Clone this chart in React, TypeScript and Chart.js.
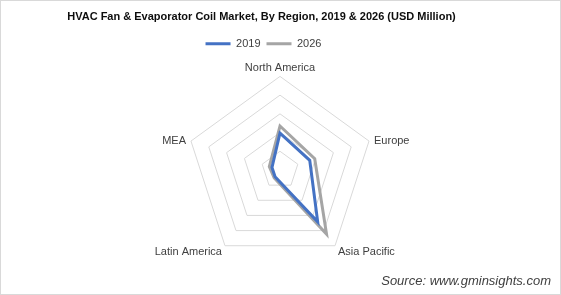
import React, { useEffect, useRef } from "react";
import { Chart, registerables } from "chart.js";

Chart.register(...registerables);

const chartTitle = "HVAC Fan & Evaporator Coil Market, By Region, 2019 & 2026 (USD Million)";
const sourceText = "Source: www.gminsights.com";
const regions = ["North America", "Europe", "Asia Pacific", "Latin America", "MEA"];
const seriesNames = ["2019", "2026"];
const values2019 = [1975, 1670, 3425, 450, 450];
const values2026 = [2350, 1950, 4230, 525, 600];
const scaleMax = 5000;
const scaleStep = 1000;

const seriesColors = ["#4472C4", "#A5A5A5"];
const labelFont = "11px 'Liberation Sans', Arial, sans-serif";
const labelColor = "#404040";

const headerShift = {
  id: "headerShift",
  afterLayout(chart: any) {
    const t = chart.titleBlock;
    if (t) {
      t.left -= 19;
      t.right -= 19;
    }
    const lg = chart.legend;
    if (lg) {
      lg.left -= 17;
      lg.right -= 17;
      lg.top += 5;
      lg.bottom += 5;
    }
  },
};

const regionLabels = {
  id: "regionLabels",
  afterDraw(chart: any) {
    const scale = chart.scales.r;
    const ctx = chart.ctx;
    const R = scale.drawingArea;
    ctx.save();
    ctx.font = labelFont;
    ctx.fillStyle = labelColor;
    regions.forEach((name, i) => {
      const p = scale.getPointPosition(i, R);
      const ux = (p.x - scale.xCenter) / R;
      const uy = (p.y - scale.yCenter) / R;
      if (Math.abs(ux) < 0.1) {
        ctx.textAlign = "center";
        ctx.textBaseline = "bottom";
        ctx.fillText(name, p.x, p.y - 3);
      } else {
        ctx.textAlign = ux > 0 ? "left" : "right";
        ctx.textBaseline = "middle";
        const gap = uy > 0 ? 3 : 5;
        ctx.fillText(name, p.x + (ux > 0 ? gap : -gap), p.y + (uy > 0 ? 6 : 0));
      }
    });
    ctx.restore();
  },
};

export default function App() {
  const ref = useRef<HTMLCanvasElement | null>(null);

  useEffect(() => {
    if (!ref.current) return;
    const chart = new Chart(ref.current, {
      type: "radar",
      data: {
        labels: regions,
        datasets: [
          {
            label: seriesNames[0],
            data: values2019,
            borderColor: seriesColors[0],
            backgroundColor: "rgba(0,0,0,0)",
            borderWidth: 3,
            pointRadius: 0,
            fill: false,
          },
          {
            label: seriesNames[1],
            data: values2026,
            borderColor: seriesColors[1],
            backgroundColor: "rgba(0,0,0,0)",
            borderWidth: 3,
            pointRadius: 0,
            fill: false,
          },
        ],
      },
      options: {
        responsive: false,
        animation: false,
        devicePixelRatio: 1,
        layout: { padding: { left: 10, right: 10, top: 0, bottom: 0 } },
        scales: {
          r: {
            min: 0,
            max: scaleMax,
            ticks: { stepSize: scaleStep, display: false },
            grid: { color: "#D9D9D9", lineWidth: 1 },
            angleLines: { display: false },
            pointLabels: {
              color: "rgba(0,0,0,0)",
              font: { family: "Liberation Sans, Arial, sans-serif", size: 11 },
              padding: 2,
            },
          },
        },
        plugins: {
          title: {
            display: true,
            text: chartTitle,
            color: "#0d0d0d",
            font: { family: "Liberation Sans, Arial, sans-serif", size: 11, weight: "bold" },
            padding: { top: 10, bottom: 4 },
          },
          subtitle: {
            display: true,
            text: sourceText,
            position: "bottom",
            align: "end",
            color: "#404040",
            font: { family: "Liberation Sans, Arial, sans-serif", size: 13, style: "italic" },
            padding: { top: 0, bottom: 6 },
          },
          legend: {
            display: true,
            position: "top",
            labels: {
              color: "#404040",
              font: { family: "Liberation Sans, Arial, sans-serif", size: 11 },
              boxWidth: 25,
              boxHeight: 3,
              padding: 6,
              generateLabels: (c: any) =>
                c.data.datasets.map((ds: any, i: number) => ({
                  text: ds.label,
                  fillStyle: ds.borderColor,
                  strokeStyle: ds.borderColor,
                  lineWidth: 0,
                  hidden: false,
                  datasetIndex: i,
                  fontColor: "#404040",
                })),
            },
          },
          tooltip: { enabled: false },
        },
      },
      plugins: [headerShift, regionLabels],
    });
    return () => chart.destroy();
  }, []);

  return (
    <div style={{ position: "fixed", left: 0, top: 0, width: 561, height: 295, background: "#fff" }}>
      <canvas ref={ref} width={561} height={295} style={{ position: "absolute", left: 0, top: 0 }} />
      <div
        style={{
          position: "absolute",
          left: 0,
          top: 0,
          width: 561,
          height: 295,
          boxSizing: "border-box",
          border: "1px solid #D9D9D9",
          pointerEvents: "none",
        }}
      />
    </div>
  );
}
